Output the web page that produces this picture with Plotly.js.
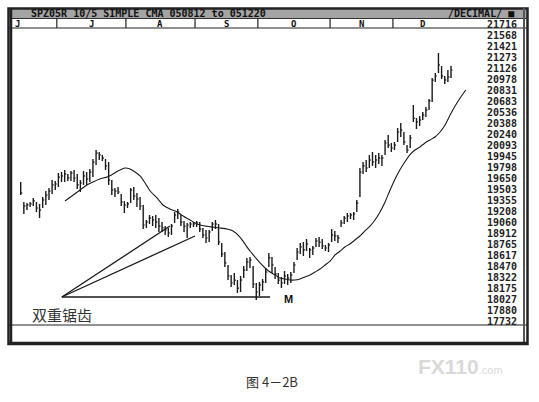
<!DOCTYPE html>
<html><head><meta charset="utf-8">
<script src="https://cdn.plot.ly/plotly-3.0.1.min.js"></script>
<style>html,body{margin:0;padding:0;background:#fff;}#chart{width:539px;height:402px;}</style>
</head><body><div id="chart"></div>
<script>
// ---- data (price units as printed on the chart, e.g. 19650 = 196.50) ----
const highs = [19604,19336,19323,19336,19390,19336,19310,19403,19483,19523,
19630,19617,19724,19737,19764,19711,19751,19764,19711,19630,
19751,19737,19777,19911,20031,20005,19965,19911,19871,19630,
19523,19537,19443,19350,19336,19523,19537,19457,19403,19296,
19096,19162,19149,19162,19122,19069,19015,18989,19042,19203,
19243,19162,19082,19056,19069,19069,19082,19069,18989,18962,
18962,19069,19096,19042,18788,18668,18494,18360,18387,18293,
18347,18481,18588,18601,18481,18253,18267,18307,18454,18654,
18601,18467,18387,18334,18414,18374,18400,18534,18721,18788,
18801,18842,18721,18748,18855,18868,18842,18761,18788,18975,
18949,18895,19096,19149,19189,19189,19203,19363,19791,19871,
19898,19965,20005,19965,19991,19965,20165,20232,20125,20138,
20326,20392,20272,20098,20232,20633,20459,20486,20540,20606,
20713,20994,21061,21328,21155,21021,21101,21155];
const lows = [19430,19176,19229,19269,19283,19203,19122,19256,19296,19363,
19443,19497,19537,19604,19604,19617,19617,19604,19510,19470,
19564,19564,19604,19670,19831,19898,19884,19764,19564,19430,
19403,19443,19283,19189,19256,19323,19363,19269,19229,18975,
18989,19042,19015,18989,18935,18935,18895,18868,18895,19056,
19109,19015,18935,18855,18989,19002,19002,18935,18855,18788,
18801,18949,18975,18761,18601,18467,18293,18200,18227,18120,
18133,18320,18414,18454,18186,18026,18080,18146,18253,18467,
18387,18307,18240,18186,18240,18227,18253,18387,18561,18641,
18614,18681,18588,18628,18735,18735,18708,18681,18668,18801,
18815,18788,19002,19042,19069,19109,19096,19203,19403,19711,
19737,19791,19818,19791,19844,19818,19965,20058,20005,20031,
20138,20205,20098,19991,20058,20406,20312,20352,20433,20473,
20566,20673,20941,21061,20981,20914,20941,20994];
const closes = [19457,19283,19296,19310,19350,19256,19229,19363,19430,19483,
19564,19577,19670,19684,19711,19657,19724,19657,19564,19590,
19684,19644,19737,19871,19991,19965,19924,19818,19630,19497,
19483,19470,19336,19296,19310,19497,19416,19376,19283,19029,
19069,19122,19096,19069,19015,18989,18962,18922,19015,19162,
19203,19069,19015,19029,19042,19042,19056,18975,18895,18855,
18935,19042,19042,18801,18641,18521,18347,18253,18293,18186,
18293,18427,18534,18561,18240,18133,18227,18267,18400,18588,
18494,18374,18293,18253,18347,18320,18360,18494,18668,18735,
18695,18775,18695,18721,18815,18801,18748,18721,18761,18895,
18882,18855,19056,19122,19149,19162,19176,19323,19737,19818,
19791,19898,19871,19898,19924,19924,20125,20098,20058,20098,
20272,20299,20138,20031,20192,20459,20406,20433,20499,20566,
20687,20967,21021,21168,21021,20967,21008,21101];
// 10/5 moving average (bar index, value)
const maIdx = [14.1,16.3,18.9,21.1,23.0,25.2,27.5,29.4,31.0,33.2,
34.8,36.4,38.0,39.6,41.2,43.4,45.3,47.5,49.8,51.7,
53.9,56.1,58.7,60.9,63.4,65.7,67.6,69.8,71.4,73.0,
74.6,76.2,77.8,79.4,81.0,82.5,84.1,85.7,87.3,88.9,
90.5,92.1,93.7,95.3,96.9,98.5,100.1,101.7,103.2,104.8,
106.4,108.0,109.6,111.2,112.8,114.4,116.0,117.6,119.2,120.7,
122.3,123.9,125.5,127.1,128.7,130.3,131.9,133.5,135.1,136.7,
138.3,139.9,141.7];
const maVals = [19350,19416,19497,19564,19604,19644,19670,19711,19751,19791,
19777,19737,19684,19590,19483,19390,19296,19243,19203,19149,
19096,19042,19015,19002,18989,18975,18949,18868,18775,18681,
18601,18521,18454,18400,18360,18320,18307,18293,18293,18307,
18334,18360,18400,18440,18494,18547,18628,18681,18735,18775,
18828,18882,18949,19015,19096,19203,19336,19497,19644,19764,
19871,19965,20031,20072,20125,20165,20205,20272,20366,20499,
20620,20727,20834];
const months = ['J','J','A','S','O','N','D'];
const monthStart = [0,12,34,56,76,99,119];
const priceTicks = [21716,21568,21421,21273,21126,20978,20831,20683,20536,20388,20240,20093,19945,19798,19650,19503,19355,19208,19060,18912,18765,18617,18470,18322,18175,18027,17880,17732];
// hand-drawn lines of the "double sawtooth" annotation (bar index, price)
const sawFrom = {i: 13.1, p: 18066};
const sawTo = [{i: 47.5, p: 19015}, {i: 55.5, p: 18882}, {i: 79.4, p: 18066}];
const mLabel = {i: 85.1, p: 18039};
const headerLeft = 'SPZ05R 10/5 SIMPLE CMA 050812 to 051220';
const headerRight = '/DECIMAL/ \u25A0';

// ---- geometry ----
const W = 539, H = 402, L = 11, R = 480, T = 18, B = 325;
const x0 = 20.7, dx = 3.141;
const px2x = p => (p - L) / (R - L);
const py2y = p => (B - p) / (B - T);
const mono = 'DejaVu Sans Mono';

const bx = [], by = [], cx = [], cy = [];
for (let i = 0; i < highs.length; i++) {
  bx.push(i, i, null); by.push(highs[i], lows[i], null);
  cx.push(i, i + 0.5, null); cy.push(closes[i], closes[i], null);
}
const sx = [], sy = [];
sawTo.forEach(e => { sx.push(sawFrom.i, e.i, null); sy.push(sawFrom.p, e.p, null); });

const traces = [
  {x: bx, y: by, type: 'scatter', mode: 'lines', line: {color: '#1a1a1a', width: 1.4}, hoverinfo: 'skip'},
  {x: cx, y: cy, type: 'scatter', mode: 'lines', line: {color: '#1a1a1a', width: 1.2}, hoverinfo: 'skip'},
  {x: maIdx, y: maVals, type: 'scatter', mode: 'lines', line: {color: '#1a1a1a', width: 1.1, shape: 'spline', smoothing: 0.5}, hoverinfo: 'skip'},
  {x: sx, y: sy, type: 'scatter', mode: 'lines', line: {color: '#1a1a1a', width: 1.3}, hoverinfo: 'skip'}
];

const shapes = [];
const pline = (x1, y1, x2, y2, w, c) => shapes.push({type: 'line', xref: 'paper', yref: 'paper', x0: px2x(x1), y0: py2y(y1), x1: px2x(x2), y1: py2y(y2), line: {color: c || '#222', width: w}});
// header band
shapes.push({type: 'rect', xref: 'paper', yref: 'paper', x0: px2x(8), x1: px2x(528), y0: py2y(8), y1: py2y(18), fillcolor: '#a4a4a4', line: {width: 0}, layer: 'below'});
// outer frame
shapes.push({type: 'rect', xref: 'paper', yref: 'paper', x0: px2x(8.5), x1: px2x(527.5), y0: py2y(8.5), y1: py2y(344), line: {color: '#222', width: 2.5}});
pline(8, 18.5, 528, 18.5, 1, '#333');
pline(8, 28, 528, 28, 1.2, '#222');
pline(8, 325, 528, 325, 1.2, '#222');
pline(11, 8, 11, 344, 2.5, '#222');
pline(524, 8, 524, 344, 2, '#555');
pline(9, 343, 528, 343, 2.5, '#222');
monthStart.forEach((s, k) => {
  if (k > 0) shapes.push({type: 'line', xref: 'x', yref: 'paper', x0: s - 0.5, x1: s - 0.5, y0: py2y(18.5), y1: py2y(28), line: {color: '#222', width: 1.2}});
});

const ann = [];
const pt = (x, y, text, size, opts) => ann.push(Object.assign({xref: 'paper', yref: 'paper', x: px2x(x), y: py2y(y), text: text, showarrow: false, font: {family: mono, size: size, color: '#111', weight: 'bold'}}, opts || {}));
pt(29, 13.5, headerLeft, 10, {xanchor: 'left', yanchor: 'middle'});
pt(516, 13.5, headerRight, 10, {xanchor: 'right', yanchor: 'middle'});
// month labels in the month row
months.forEach((m, k) => {
  const a = monthStart[k], b = k + 1 < monthStart.length ? monthStart[k + 1] : highs.length;
  const pos = k === 0 ? a - 1 : (a + b) / 2 - 0.5;
  ann.push({xref: 'x', yref: 'paper', x: pos, y: py2y(23.5), text: m, showarrow: false, xanchor: 'center', yanchor: 'middle', font: {family: mono, size: 9, color: '#111', weight: 'bold'}});
});
ann.push({xref: 'x', yref: 'y', x: mLabel.i, y: mLabel.p, text: 'M', showarrow: false, xanchor: 'center', yanchor: 'middle', font: {family: 'Liberation Sans', size: 11, color: '#111', weight: 'bold'}});
ann.push({xref: 'paper', yref: 'paper', x: px2x(62), y: py2y(314), text: '双重锯齿', showarrow: false, xanchor: 'center', yanchor: 'middle', font: {family: 'Noto Sans CJK SC', size: 15, color: '#333'}});
ann.push({xref: 'paper', yref: 'paper', x: px2x(272), y: py2y(381), text: '图 4－2B', showarrow: false, xanchor: 'center', yanchor: 'middle', font: {family: 'Noto Sans CJK SC', size: 13, color: '#333'}});
ann.push({xref: 'paper', yref: 'paper', x: px2x(460), y: py2y(366), text: '<b>FX110</b><span style="font-size:11px">.com</span>', showarrow: false, xanchor: 'center', yanchor: 'middle', font: {family: 'Liberation Sans', size: 21, color: '#d9d9d9'}});

const layout = {
  width: W, height: H,
  margin: {l: L, r: W - R, t: T, b: H - B, pad: 0},
  paper_bgcolor: '#fff', plot_bgcolor: 'rgba(0,0,0,0)',
  showlegend: false,
  xaxis: {range: [(L - x0) / dx, (R - x0) / dx], visible: false, fixedrange: true},
  yaxis: {range: [22037 - 13.37 * B, 22037 - 13.37 * T], side: 'right', tickvals: priceTicks, ticktext: priceTicks.map(String),
          ticks: '', showgrid: false, zeroline: false, showline: false, ticklabelstandoff: 6,
          tickfont: {family: mono, size: 10, color: '#222', weight: 'bold'}, fixedrange: true},
  shapes: shapes, annotations: ann
};
Plotly.newPlot('chart', traces, layout, {staticPlot: true, displayModeBar: false});
</script></body></html>
